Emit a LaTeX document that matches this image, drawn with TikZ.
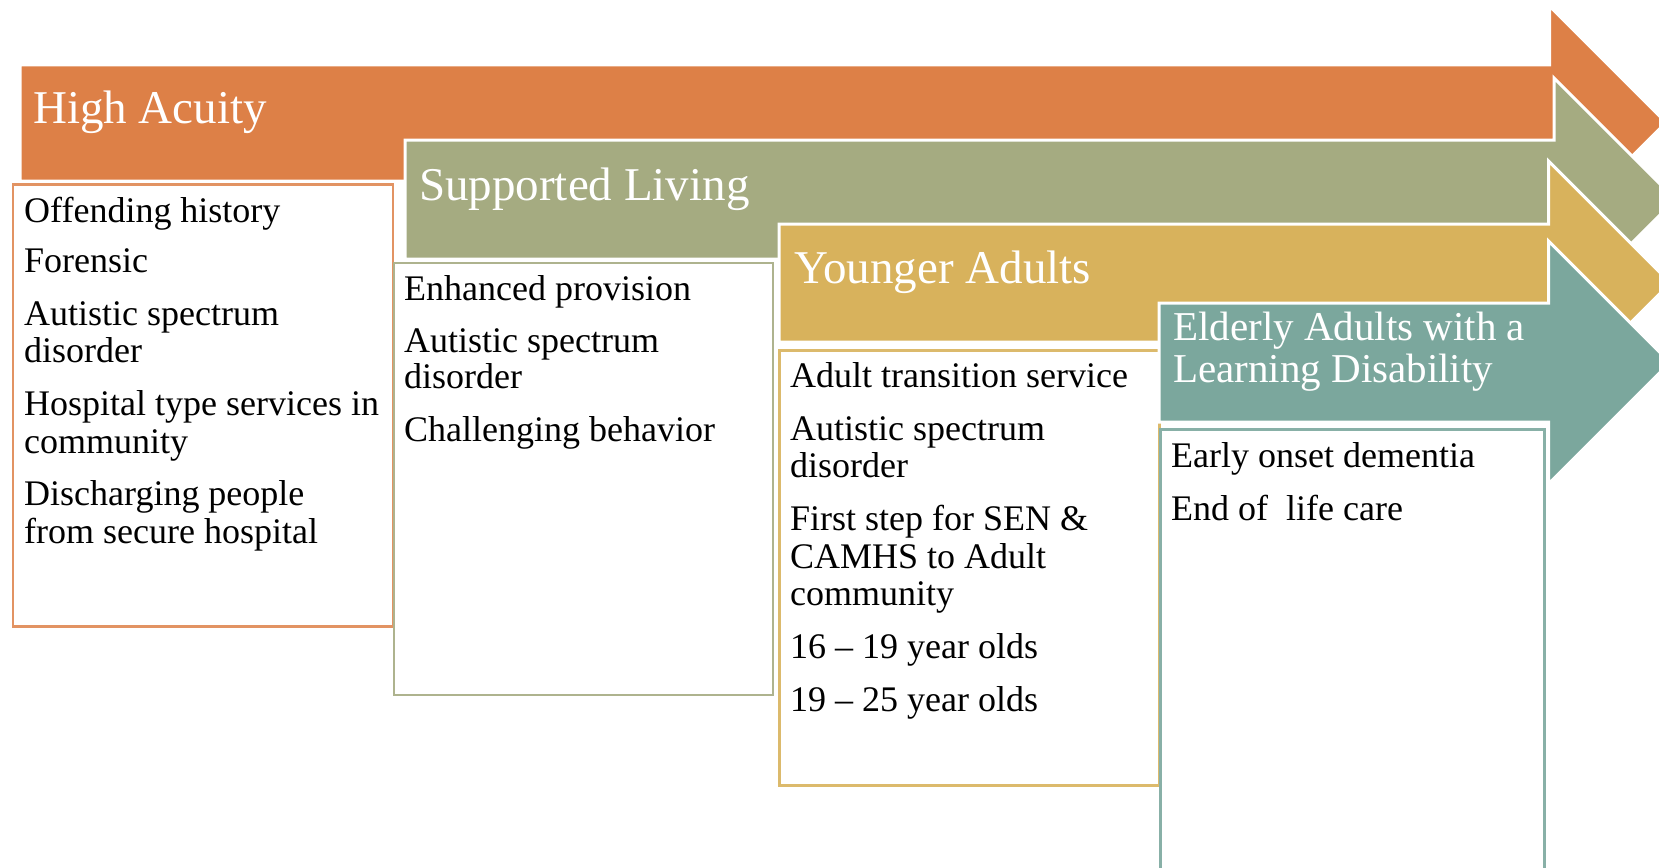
\documentclass[tikz,border=0pt]{standalone}
\usepackage{fontspec}
\setmainfont{Liberation Serif}
\definecolor{cOr}{HTML}{DD8047}
\definecolor{cGr}{HTML}{A5AB81}
\definecolor{cYe}{HTML}{D8B25C}
\definecolor{cTe}{HTML}{7BA79D}
\begin{document}
\begin{tikzpicture}[x=1pt,y=-1pt,
  arrowshape/.style={draw=white, line width=3pt, line join=miter},
  listbox/.style={fill=white, line width=2.5pt, inner sep=0pt, anchor=north west},
  title/.style={anchor=base west, text=white, font=\fontsize{47}{44}\selectfont, inner sep=0pt},
  smalltitle/.style={title, font=\fontsize{41}{42}\selectfont},
  item/.style={anchor=base west, text=black, font=\fontsize{36}{36}\selectfont, inner sep=0pt}]
\useasboundingbox (0,0) rectangle (1659,867);
\clip (0,0) rectangle (1659,867);
% High Acuity
\fill[cOr, arrowshape] (20,65) -- (1549.5,65) -- (1549.5,6) -- (1666,122.5) -- (1549.5,239) -- (1549.5,181) -- (20,181) -- cycle;
\node[title] (haT) at (33,123) {High Acuity};
\node[listbox, draw=cOr!85, minimum width=380, minimum height=442] (haBox) at (11.5,183) {};
\node[item] (ha1) at (24,222) {Offending history};
\node[item] (ha2) at (24,272) {Forensic};
\node[item] (ha3) at (24,325) {Autistic spectrum};
\node[item] (ha4) at (24,362) {disorder};
\node[item] (ha5) at (24,415) {Hospital type services in};
\node[item] (ha6) at (24,453) {community};
\node[item] (ha7) at (24,505) {Discharging people};
\node[item] (ha8) at (24,543) {from secure hospital};
% Supported Living
\fill[cGr, arrowshape] (405,140) -- (1554,140) -- (1554,78) -- (1675.5,199.5) -- (1554,321) -- (1554,259) -- (405,259) -- cycle;
\node[title] (slT) at (419,200) {Supported Living};
\node[listbox, draw=cGr!90, minimum width=379, minimum height=432] (slBox) at (392.5,261.5) {};
\node[item] (sl1) at (404,300) {Enhanced provision};
\node[item] (sl2) at (404,352) {Autistic spectrum};
\node[item] (sl3) at (404,388) {disorder};
\node[item] (sl4) at (404,441) {Challenging behavior};
% Younger Adults
\fill[cYe, arrowshape] (779,224) -- (1548.5,224) -- (1548.5,161) -- (1670.5,283) -- (1548.5,405) -- (1548.5,342) -- (779,342) -- cycle;
\node[title] (yaT) at (794,283) {Younger Adults};
\node[listbox, draw=cYe!90, minimum width=380, minimum height=435] (yaBox) at (778,349) {};
\node[item] (ya1) at (790,387) {Adult transition service};
\node[item] (ya2) at (790,440) {Autistic spectrum};
\node[item] (ya3) at (790,477) {disorder};
\node[item] (ya4) at (790,530) {First step for SEN \&};
\node[item] (ya5) at (790,568) {CAMHS to Adult};
\node[item] (ya6) at (790,605) {community};
\node[item] (ya7) at (790,658) {16 -- 19 year olds};
\node[item] (ya8) at (790,711) {19 -- 25 year olds};
% Elderly Adults
\fill[cTe, arrowshape] (1159,303) -- (1548.5,303) -- (1548.5,241) -- (1670,362.5) -- (1548.5,484) -- (1548.5,422) -- (1159,422) -- cycle;
\node[smalltitle] (eaT1) at (1173,340) {Elderly Adults with a};
\node[smalltitle] (eaT2) at (1173,382) {Learning Disability};
\node[listbox, draw=cTe!90, minimum width=384, minimum height=470] (eaBox) at (1159,428) {};
\node[item] (ea1) at (1171,467) {Early onset dementia};
\node[item] (ea2) at (1171,520) {End of\ \ life care};
\end{tikzpicture}
\end{document}
